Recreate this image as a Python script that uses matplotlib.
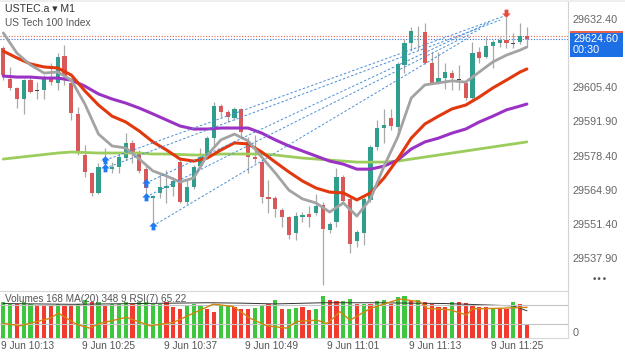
import numpy as np
import matplotlib
matplotlib.use('Agg')
import matplotlib.pyplot as plt
import matplotlib.transforms as mtransforms
from matplotlib.path import Path
from matplotlib.patches import Rectangle

plt.rcParams['font.family'] = ['Liberation Sans', 'DejaVu Sans']

################################ data ################################
# USTEC.a M1 candles, 9 Jun 10:10 -> 11:27
opens = [29621.0, 29608.7, 29605.2, 29600.8, 29608.3, 29604.4, 29604.4, 29608.7, 29607.1, 29617.9,
         29607.1, 29594.9, 29578.6, 29571.5, 29563.6, 29575.8, 29573.0, 29573.8, 29577.4, 29583.4,
         29579.4, 29573.0, 29561.6, 29563.6, 29565.5, 29565.9, 29575.8, 29560.0, 29565.9, 29574.2,
         29578.6, 29585.3, 29598.1, 29595.7, 29593.3, 29596.9, 29583.8, 29577.8, 29575.8, 29562.0,
         29561.6, 29556.8, 29554.0, 29547.7, 29554.0, 29555.2, 29555.6, 29558.8, 29548.9, 29552.1,
         29569.9, 29561.2, 29544.5, 29547.7, 29560.8, 29581.8, 29589.3, 29593.3, 29589.7, 29614.3,
         29623.0, 29627.8, 29627.4, 29615.1, 29607.5, 29609.1, 29611.1, 29608.3, 29607.1, 29601.2,
         29619.4, 29617.5, 29621.8, 29623.0, 29624.2, 29622.6, 29623.4, 29625.8]
highs = [29621.8, 29613.5, 29605.6, 29608.7, 29609.5, 29607.5, 29610.3, 29615.1, 29619.0, 29622.2,
         29608.3, 29597.7, 29582.6, 29571.9, 29575.4, 29581.4, 29575.8, 29579.8, 29587.3, 29584.6,
         29580.6, 29574.6, 29562.8, 29571.5, 29572.7, 29569.9, 29577.0, 29568.7, 29574.6, 29581.4,
         29586.1, 29599.6, 29598.8, 29596.5, 29597.7, 29597.3, 29585.7, 29586.5, 29576.6, 29568.7,
         29562.4, 29557.6, 29554.4, 29556.0, 29556.0, 29558.4, 29563.2, 29560.0, 29552.1, 29573.4,
         29570.7, 29562.0, 29548.9, 29562.0, 29582.6, 29592.5, 29596.9, 29596.9, 29615.5, 29624.6,
         29629.3, 29629.7, 29630.9, 29619.4, 29619.4, 29615.1, 29612.3, 29614.3, 29607.5, 29623.4,
         29621.4, 29625.4, 29624.2, 29625.4, 29633.3, 29627.0, 29630.9, 29629.3]
lows = [29608.3, 29604.4, 29597.3, 29594.9, 29603.2, 29600.8, 29600.8, 29606.4, 29604.4, 29606.4,
        29592.5, 29578.6, 29569.9, 29562.4, 29563.2, 29573.4, 29571.5, 29571.5, 29576.6, 29575.4,
        29571.5, 29560.8, 29552.1, 29561.6, 29559.6, 29562.4, 29559.6, 29559.2, 29565.1, 29573.4,
        29577.8, 29582.2, 29593.6, 29591.7, 29592.5, 29585.7, 29571.5, 29575.4, 29559.6, 29555.6,
        29554.0, 29550.1, 29545.3, 29544.9, 29552.1, 29550.1, 29554.8, 29527.1, 29547.7, 29550.1,
        29559.6, 29539.8, 29542.1, 29542.9, 29560.0, 29580.6, 29583.4, 29588.5, 29586.5, 29611.1,
        29619.8, 29620.2, 29614.7, 29606.8, 29606.8, 29604.8, 29604.4, 29604.4, 29600.4, 29600.8,
        29615.1, 29617.1, 29613.1, 29621.4, 29621.0, 29621.0, 29622.6, 29621.8]
closes = [29610.3, 29605.2, 29600.8, 29608.3, 29603.6, 29604.0, 29608.7, 29607.5, 29617.5, 29609.9,
          29595.3, 29579.4, 29571.9, 29563.6, 29573.8, 29577.4, 29573.8, 29577.8, 29583.4, 29579.4,
          29572.3, 29565.5, 29562.4, 29565.9, 29566.3, 29568.3, 29560.0, 29565.9, 29573.8, 29577.8,
          29585.3, 29598.1, 29595.7, 29593.6, 29596.9, 29587.7, 29577.8, 29577.0, 29562.0, 29561.2,
          29557.2, 29554.0, 29546.9, 29554.4, 29554.8, 29554.0, 29558.4, 29549.3, 29551.3, 29569.9,
          29560.4, 29543.3, 29548.1, 29561.2, 29581.8, 29589.3, 29590.5, 29590.1, 29614.7, 29623.0,
          29627.8, 29627.6, 29615.1, 29607.1, 29609.1, 29611.5, 29609.1, 29608.7, 29601.2, 29619.0,
          29617.1, 29621.8, 29623.4, 29624.2, 29623.0, 29623.0, 29625.8, 29624.6]

time_labels = ['9 Jun 10:13', '9 Jun 10:25', '9 Jun 10:37', '9 Jun 10:49',
               '9 Jun 11:01', '9 Jun 11:13', '9 Jun 11:25']
label_idx = [3, 15, 27, 39, 51, 63, 75]
price_ticks = [29632.40, 29605.40, 29591.90, 29578.40, 29564.90, 29551.40, 29537.90]

# moving averages read every 2 candles (+ last)
ma_idx = list(range(0, 77, 2)) + [77]
ma_gray = [29627.0, 29619.0, 29614.3, 29611.1, 29611.5, 29608.3, 29598.8, 29586.9, 29582.2, 29581.4,
           29577.0, 29572.3, 29570.3, 29567.9, 29569.5, 29578.6, 29584.6, 29586.9, 29584.2, 29577.8,
           29571.5, 29564.7, 29561.2, 29559.6, 29556.0, 29559.6, 29554.4, 29561.2, 29574.2, 29585.7,
           29601.2, 29606.4, 29607.2, 29608.0, 29607.5, 29611.5, 29615.5, 29618.2, 29620.2, 29621.4]
ma_red = [29619.8, 29617.1, 29614.7, 29613.5, 29613.1, 29610.3, 29604.0, 29598.4, 29594.0, 29591.7,
          29588.1, 29583.8, 29580.6, 29577.0, 29576.2, 29577.4, 29580.6, 29583.4, 29583.0, 29579.8,
          29575.8, 29571.9, 29568.3, 29565.5, 29563.9, 29563.6, 29560.8, 29563.6, 29569.5, 29577.0,
          29585.3, 29590.9, 29594.0, 29596.9, 29598.4, 29601.6, 29605.2, 29608.3, 29611.5, 29612.7]
ma_purple = [29609.9, 29609.5, 29609.5, 29609.1, 29609.1, 29608.3, 29605.9, 29602.8, 29600.8, 29599.2,
             29597.2, 29594.9, 29592.5, 29590.1, 29588.9, 29588.9, 29589.3, 29589.3, 29589.3, 29587.3,
             29584.6, 29582.2, 29580.2, 29578.2, 29576.2, 29575.0, 29573.0, 29573.0, 29574.2, 29576.6,
             29581.0, 29583.8, 29585.3, 29587.3, 29588.9, 29591.7, 29594.0, 29596.5, 29598.0, 29598.8]
ma_green = [29577.0, 29577.6, 29578.2, 29578.8, 29579.4, 29579.8, 29579.6, 29579.4, 29579.4, 29579.4,
            29579.4, 29579.0, 29579.0, 29578.8, 29578.6, 29578.6, 29579.0, 29579.0, 29579.0, 29579.0,
            29578.6, 29578.0, 29577.4, 29577.0, 29576.6, 29576.2, 29575.8, 29575.8, 29575.8, 29576.2,
            29577.0, 29577.8, 29578.6, 29579.4, 29580.2, 29581.0, 29581.8, 29582.6, 29583.4, 29583.8]

# trades: buy arrows and where the dashed lines end
buy_idx = [15, 15, 21, 21, 22]
buy_price = [29576.6, 29573.4, 29567.5, 29562.0, 29550.5]
end_idx = [74.1, 73.1, 71.6, 70.1, 68.6]
end_price = [29634.1, 29632.1, 29631.3, 29628.5, 29625.4]
sell_idx = [74]
sell_price = [29634.9]
ask, bid = 29625.8, 29624.6

# volumes
volumes = [460, 438, 438, 460, 438, 408, 408, 408, 438, 417,
           408, 438, 481, 460, 460, 417, 438, 438, 460, 438,
           460, 460, 438, 438, 460, 396, 366, 417, 438, 417,
           366, 332, 417, 417, 396, 366, 374, 383, 426, 438,
           481, 374, 374, 383, 396, 353, 374, 536, 481, 468,
           468, 502, 438, 438, 438, 468, 481, 438, 523, 532,
           481, 481, 460, 438, 396, 396, 460, 460, 451, 426,
           396, 396, 383, 383, 366, 460, 438, 168]
vol_up = [1, 1, 0, 1, 1, 0, 0, 0, 1, 0, 0, 1, 1, 0, 1, 0, 1, 1, 1, 0,
          1, 1, 1, 1, 0, 0, 0, 1, 1, 1, 0, 0, 1, 1, 0, 0, 0, 1, 1, 0,
          1, 0, 1, 1, 0, 0, 1, 1, 0, 0, 1, 1, 0, 1, 0, 1, 1, 0, 1, 1,
          0, 1, 0, 0, 0, 0, 1, 0, 0, 0, 0, 0, 1, 0, 0, 1, 0, 0]
vol_ma_idx = [0, 10, 20, 30, 35, 40, 47, 55, 60, 65, 70, 75, 77]
vol_ma = [440, 430, 440, 450, 445, 435, 450, 450, 445, 440, 425, 410, 348]
rsi_idx = [0, 2.5, 6.9, 8.1, 10.8, 12.7, 14.2, 18.1, 21.6, 25, 28, 30.9, 33.8, 36.3, 38.7, 41.7,
           43.1, 46.1, 47.6, 48.5, 49.5, 51, 54, 58.3, 61.3, 62.3, 65.7, 68.1, 69, 72.5, 77]
rsi = [31, 26, 42, 53, 29, 21, 31, 44, 26, 33, 53, 72, 67, 42, 26, 21,
       35, 38, 31, 42, 56, 38, 63, 83, 77, 63, 60, 49, 62, 63, 65.22]

################################ plot ################################
W, H = 625, 352
GREEN, RED = '#2f9e8c', '#d9585a'
fig = plt.figure(figsize=(W / 100, H / 100), dpi=100)
ax = fig.add_axes([0, 62 / H, 568 / W, 290 / H])
axv = fig.add_axes([0, 14 / H, 568 / W, 47 / H])

idx = np.arange(len(opens))
o, h, l, c = map(np.array, (opens, highs, lows, closes))
col = np.where(c >= o, GREEN, RED).astype(object)
col[np.abs(c - o) < 0.5] = '#444444'
ax.vlines(idx, l, h, color='#a9a9a9', lw=0.9, zorder=2)
ax.bar(idx, np.maximum(np.abs(c - o), 0.3), bottom=np.minimum(o, c), width=0.6,
       color=list(col), zorder=3)

ax.plot(ma_idx, ma_green, color='#9bcc5c', lw=2.0, zorder=4, solid_capstyle='round')
ax.plot(ma_idx, ma_purple, color='#9a33c4', lw=2.2, zorder=5, solid_capstyle='round')
ax.plot(ma_idx, ma_red, color='#e2380e', lw=2.2, zorder=6, solid_capstyle='round')
ax.plot(ma_idx, ma_gray, color='#a3a3a3', lw=2.0, zorder=7, solid_capstyle='round')

for bx, by, ex, ey in zip(buy_idx, buy_price, end_idx, end_price):
    ax.plot([bx, ex], [by, ey], color='#4a8ed6', lw=0.7, dashes=(2.5, 2), zorder=8)

arrow_up = Path([(0, 1), (1, 0), (0.45, 0), (0.45, -0.9), (-0.45, -0.9), (-0.45, 0), (-1, 0), (0, 1)])
arrow_dn = Path([(x, -y) for x, y in arrow_up.vertices])
ax.scatter(buy_idx, buy_price, marker=arrow_up, s=38, color='#1f7af5', zorder=9, lw=0)
ax.scatter(sell_idx, sell_price, marker=arrow_dn, s=38, color='#ea4a3c', zorder=9, lw=0)

ax.axhline(ask, color='#e8604c', lw=0.8, ls=(0, (1, 1.5)), zorder=1)
ax.axhline(bid, color='#3a6fd8', lw=0.8, ls=(0, (1, 1.5)), zorder=1)

ax.set_xlim(-0.485, 83.05)
ax.set_ylim(29525.1, 29640.05)
ax.yaxis.tick_right()
ax.set_yticks(price_ticks)
ax.set_yticklabels(['%.2f' % p for p in price_ticks])
ax.tick_params(axis='y', length=0, pad=3.3, labelsize=7.8, labelcolor='#666666')
ax.set_xticks([])
for s in ['top', 'left', 'bottom']:
    ax.spines[s].set_visible(False)
ax.spines['right'].set_color('#d4d4d4')
ax.spines['right'].set_linewidth(0.8)

# last price label box
tr = mtransforms.blended_transform_factory(ax.transAxes, ax.transData)
ax.add_patch(Rectangle((1.0035, bid - 7.0), 0.0928, 10.2, transform=tr, clip_on=False,
                       facecolor='#1d6fe6', edgecolor='none', zorder=10))
ax.add_patch(Rectangle((1.0035, bid + 2.2), 0.0928, 1.0, transform=tr, clip_on=False,
                       facecolor='#e8604c', edgecolor='none', zorder=11))
ax.text(1.009, bid - 0.2, '%.2f' % bid, transform=tr, color='white', fontsize=7.8,
        va='center', ha='left', zorder=12)
ax.text(1.009, bid - 4.4, '00:30', transform=tr, color='white', fontsize=7.8,
        va='center', ha='left', zorder=12)

fig.text(5 / W, 1 - 9 / H, 'USTEC.a \u25be M1', fontsize=7.6, color='#333333', va='center')
fig.text(5 / W, 1 - 22.5 / H, 'US Tech 100 Index', fontsize=7.3, color='#555555', va='center')
fig.text(600 / W, 1 - 280 / H, '\u2022\u2022\u2022', fontsize=6.5, color='#555555',
         va='center', ha='center', family='DejaVu Sans')
fig.add_artist(Rectangle((0, 1 - 2 / H), 1, 2 / H, transform=fig.transFigure,
                         facecolor='#eeeeee', edgecolor='none'))

# volume / rsi panel
vcol = [('#3ec63e' if u else '#f23b2f') for u in vol_up]
axv.bar(idx, volumes, width=0.6, color=vcol, zorder=2)
axv.plot(vol_ma_idx, vol_ma, color='#333333', lw=0.7, zorder=4)
axv.set_xlim(-0.485, 83.05)
axv.set_ylim(0, 600)
axv.yaxis.tick_right()
axv.set_yticks([501])
axv.set_yticklabels(['501'])
axv.tick_params(axis='y', length=0, pad=3.3, labelsize=7.8, labelcolor='#666666')
trv = mtransforms.blended_transform_factory(axv.transAxes, axv.transData)
axv.text(1.008, 0, '0', transform=trv, fontsize=7.8, color='#666666', va='bottom', ha='left')
axv.set_xticks(np.array(label_idx) + 0.5)
axv.set_xticklabels(time_labels)
axv.tick_params(axis='x', length=0, pad=2.2, labelsize=7.3, labelcolor='#555555')
axv.spines['left'].set_visible(False)
for s in ['top', 'bottom', 'right']:
    axv.spines[s].set_color('#d8d8d8')
    axv.spines[s].set_linewidth(0.8)

axr = axv.twinx()
axr.set_ylim(0, 100)
axr.axhline(70, color='#c4c4c4', lw=0.8, zorder=1)
axr.axhline(30, color='#c4c4c4', lw=0.8, zorder=1)
axr.plot(rsi_idx, rsi, color='#cf8510', lw=1.0, zorder=5)
axr.set_yticks([])
for s in axr.spines.values():
    s.set_visible(False)
fig.text(5 / W, 1 - 299 / H, 'Volumes 168 MA(20) 348 9 RSI(7) 65.22',
         fontsize=7.2, color='#555555', va='center', zorder=6)

fig.savefig('out.png', dpi=100)
